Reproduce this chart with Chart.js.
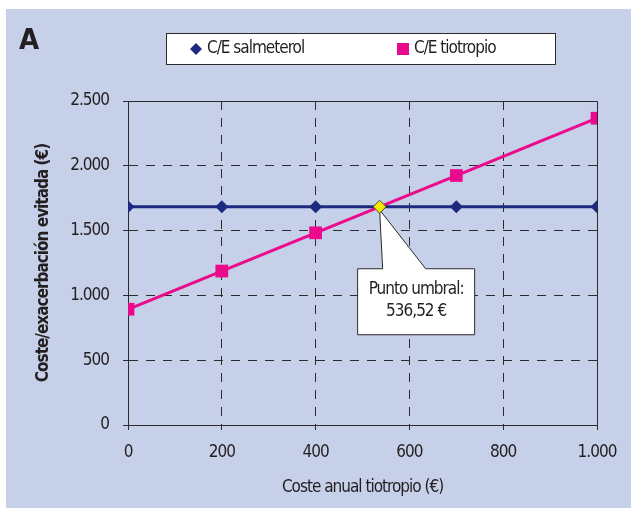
<!DOCTYPE html>
<html lang="es">
<head>
<meta charset="utf-8">
<title>Coste/exacerbación evitada</title>
<script src="https://cdn.jsdelivr.net/npm/chart.js@4/dist/chart.umd.min.js"></script>
<style>
  html, body { margin: 0; padding: 0; background: #ffffff; }
  #chart { display: block; }
</style>
</head>
<body>
<canvas id="chart" width="631" height="510"></canvas>
<script>
// Coste anual de tiotropio (€) en el eje X
const costeAnual = [0, 200, 400, 700, 1000];
// Coste por exacerbación evitada (€)
const ceSalmeterol = [1684, 1684, 1684, 1684, 1684];
const ceTiotropio = [893, 1188, 1483, 1925, 2367];
// Punto umbral donde se cruzan ambas rectas
const puntoUmbral = 536.52;
const valorUmbral = 1684;
// Marcas de los ejes
const xTicks = [0, 200, 400, 600, 800, 1000];
const yTicks = [0, 500, 1000, 1500, 2000, 2500];
const serieNombres = ['C/E salmeterol', 'C/E tiotropio'];
const panelLetra = 'A';

const FONT = "'DejaVu Sans Condensed', 'Liberation Sans Narrow', sans-serif";
const TEXT = '#231f20';
const NAVY = '#1c2a80';
const PINK = '#ec0a8c';
const PANEL = '#c6d0e8';
const TRACKING = '-1px';

// 2500 -> "2.500", 536.52 -> "536,52"
function fmtMiles(v) {
  return String(v).replace(/\B(?=(\d{3})+(?!\d))/g, '.');
}
function fmtDecimal(v) {
  const [ent, dec] = v.toFixed(2).split('.');
  return fmtMiles(Number(ent)) + ',' + dec;
}

const toPoints = (xs, ys) => xs.map((x, i) => ({ x: x, y: ys[i] }));

// texto algo más apretado en todo el lienzo (medición y dibujo)
const tracking = {
  id: 'tracking',
  beforeUpdate(chart) { chart.ctx.letterSpacing = TRACKING; },
  beforeDraw(chart) { chart.ctx.letterSpacing = TRACKING; }
};

const decor = {
  id: 'decor',
  beforeDraw(chart) {
    const { ctx, width, height } = chart;
    ctx.save();
    ctx.fillStyle = '#ffffff';
    ctx.fillRect(0, 0, width, height);
    ctx.fillStyle = PANEL;
    ctx.fillRect(6, 9, width - 6, height - 11);
    ctx.restore();
  },
  beforeDatasetsDraw(chart) {
    // marco superior y derecho del área de trazado
    const { ctx, chartArea: a } = chart;
    ctx.save();
    ctx.strokeStyle = '#2b2b2b';
    ctx.lineWidth = 1;
    ctx.beginPath();
    ctx.moveTo(a.left - 5, Math.round(a.top) + 0.5);
    ctx.lineTo(Math.round(a.right) + 0.5, Math.round(a.top) + 0.5);
    ctx.lineTo(Math.round(a.right) + 0.5, a.bottom + 5);
    ctx.stroke();
    ctx.restore();
  },
  afterDraw(chart) {
    const { ctx } = chart;
    ctx.save();

    // letra del panel
    ctx.fillStyle = TEXT;
    ctx.font = 'bold 29px ' + FONT;
    ctx.textBaseline = 'middle';
    ctx.textAlign = 'left';
    ctx.fillText(panelLetra, 19, 41);

    // leyenda enmarcada
    ctx.fillStyle = '#ffffff';
    ctx.fillRect(166, 33, 389, 31);
    ctx.strokeStyle = '#2b2b2b';
    ctx.lineWidth = 1;
    ctx.strokeRect(166.5, 33.5, 389, 31);

    const ly = 49;
    ctx.fillStyle = NAVY;
    ctx.beginPath();
    ctx.moveTo(196, ly - 6);
    ctx.lineTo(202, ly);
    ctx.lineTo(196, ly + 6);
    ctx.lineTo(190, ly);
    ctx.closePath();
    ctx.fill();
    ctx.fillStyle = PINK;
    ctx.fillRect(397, ly - 6, 12, 12);

    ctx.fillStyle = TEXT;
    ctx.font = '17px ' + FONT;
    ctx.textBaseline = 'middle';
    ctx.fillText(serieNombres[0], 207, ly);
    ctx.fillText(serieNombres[1], 414, ly);

    // llamada del punto umbral
    const px = chart.scales.x.getPixelForValue(puntoUmbral);
    const py = chart.scales.y.getPixelForValue(valorUmbral);
    const bx0 = px - 22, bx1 = px + 95, by0 = py + 62, by1 = py + 128;
    ctx.beginPath();
    ctx.moveTo(bx0, by0);
    ctx.lineTo(px + 3, by0);
    ctx.lineTo(px, py + 3);
    ctx.lineTo(px + 46, by0);
    ctx.lineTo(bx1, by0);
    ctx.lineTo(bx1, by1);
    ctx.lineTo(bx0, by1);
    ctx.closePath();
    ctx.fillStyle = '#ffffff';
    ctx.fill();
    ctx.strokeStyle = '#2b2b2b';
    ctx.lineWidth = 1;
    ctx.stroke();

    ctx.fillStyle = TEXT;
    ctx.font = '17px ' + FONT;
    ctx.textAlign = 'center';
    ctx.textBaseline = 'middle';
    const cx = (bx0 + bx1) / 2;
    ctx.fillText('Punto umbral:', cx, by0 + 21);
    ctx.fillText(fmtDecimal(puntoUmbral) + ' €', cx, by0 + 43);

    // marcador del punto umbral por encima de la llamada
    ctx.beginPath();
    ctx.moveTo(px, py - 6.5);
    ctx.lineTo(px + 6.5, py);
    ctx.lineTo(px, py + 6.5);
    ctx.lineTo(px - 6.5, py);
    ctx.closePath();
    ctx.fillStyle = '#f2ec00';
    ctx.fill();
    ctx.strokeStyle = '#4a4a2a';
    ctx.stroke();

    ctx.restore();
  }
};

const gridColor = (max) => (c) =>
  (c.tick && (c.tick.value === 0 || c.tick.value === max)) ? 'rgba(0,0,0,0)' : '#2b2b2b';

new Chart(document.getElementById('chart'), {
  type: 'scatter',
  data: {
    datasets: [
      {
        label: 'Punto umbral',
        data: [{ x: puntoUmbral, y: valorUmbral }],
        showLine: false,
        pointRadius: 0,
        order: 0
      },
      {
        label: serieNombres[0],
        data: toPoints(costeAnual, ceSalmeterol),
        showLine: true,
        borderColor: NAVY,
        backgroundColor: NAVY,
        borderWidth: 3,
        pointStyle: 'rectRot',
        pointRadius: 6.5,
        pointBorderWidth: 0,
        order: 1
      },
      {
        label: serieNombres[1],
        data: toPoints(costeAnual, ceTiotropio),
        showLine: true,
        borderColor: PINK,
        backgroundColor: PINK,
        borderWidth: 3,
        pointStyle: 'rect',
        pointRadius: 9,
        pointBorderWidth: 0,
        order: 2
      }
    ]
  },
  options: {
    responsive: false,
    animation: false,
    devicePixelRatio: 1,
    events: [],
    layout: { padding: { top: 101, right: 34, bottom: 0, left: 0 } },
    plugins: {
      legend: { display: false },
      tooltip: { enabled: false }
    },
    scales: {
      x: {
        type: 'linear',
        min: 0,
        max: 1000,
        afterFit(s) { s.height = 85; },
        afterBuildTicks(s) { s.ticks = xTicks.map(v => ({ value: v })); },
        ticks: {
          padding: 12,
          color: TEXT,
          font: { family: FONT, size: 17 },
          callback: (v) => fmtMiles(v)
        },
        grid: {
          color: gridColor(1000),
          lineWidth: 1,
          drawTicks: true,
          tickLength: 5,
          tickColor: '#2b2b2b',
          tickBorderDash: []
        },
        border: { display: true, color: '#2b2b2b', width: 1, dash: [9, 8] },
        title: {
          display: true,
          text: 'Coste anual tiotropio (€)',
          color: TEXT,
          font: { family: FONT, size: 17 },
          padding: { top: 0, bottom: 12 }
        }
      },
      y: {
        type: 'linear',
        min: 0,
        max: 2500,
        afterFit(s) { s.width = 128; },
        afterBuildTicks(s) { s.ticks = yTicks.map(v => ({ value: v })); },
        ticks: {
          padding: 14,
          color: TEXT,
          font: { family: FONT, size: 17 },
          callback: (v) => fmtMiles(v)
        },
        grid: {
          color: gridColor(2500),
          lineWidth: 1,
          drawTicks: true,
          tickLength: 5,
          tickColor: '#2b2b2b',
          tickBorderDash: []
        },
        border: { display: true, color: '#2b2b2b', width: 1, dash: [9, 8] },
        title: {
          display: true,
          text: 'Coste/exacerbación evitada (€)',
          color: TEXT,
          font: { family: FONT, size: 17, weight: 'bold' },
          padding: { top: 33, bottom: 0 }
        }
      }
    }
  },
  plugins: [tracking, decor]
});
</script>
</body>
</html>
